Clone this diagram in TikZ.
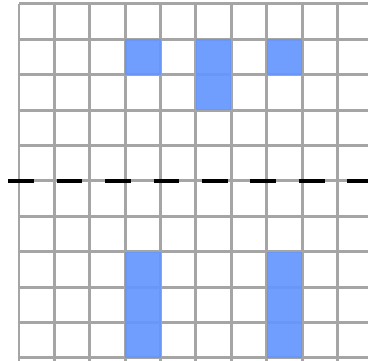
\documentclass[tikz,border=0pt]{standalone}
\usetikzlibrary{positioning}
\definecolor{gridgray}{RGB}{165,165,165}
\definecolor{cellblue}{RGB}{100,150,255}
\begin{document}
\begin{tikzpicture}[
  x=1cm,y=1cm,
  gridline/.style={draw=gridgray, line width=2.4pt},
  cell/.style={fill=cellblue, fill opacity=0.92},
  divider/.style={draw=black, line width=3.2pt, dash pattern=on 0.73cm off 0.64cm}
]
\useasboundingbox (-0.537,-0.085) rectangle (9.86,10.11);
\clip (-0.537,-0.085) rectangle (9.86,10.11);
% grid
\foreach \x in {0,...,10} \draw[gridline] (\x,-0.5) -- (\x,10);
\foreach \y in {0,...,10} \draw[gridline] (0,\y) -- (10.5,\y);
% upper half
\foreach \c/\r in {3/8,5/8,5/7,7/8} \fill[cell] (\c,\r) rectangle ++(1,1);
% lower half
\foreach \c/\r in {3/0,3/1,3/2,7/0,7/1,7/2} \fill[cell] (\c,\r) rectangle ++(1,1);
% divider
\draw[divider] (-0.31,5) -- (10.5,5);
\end{tikzpicture}
\end{document}
